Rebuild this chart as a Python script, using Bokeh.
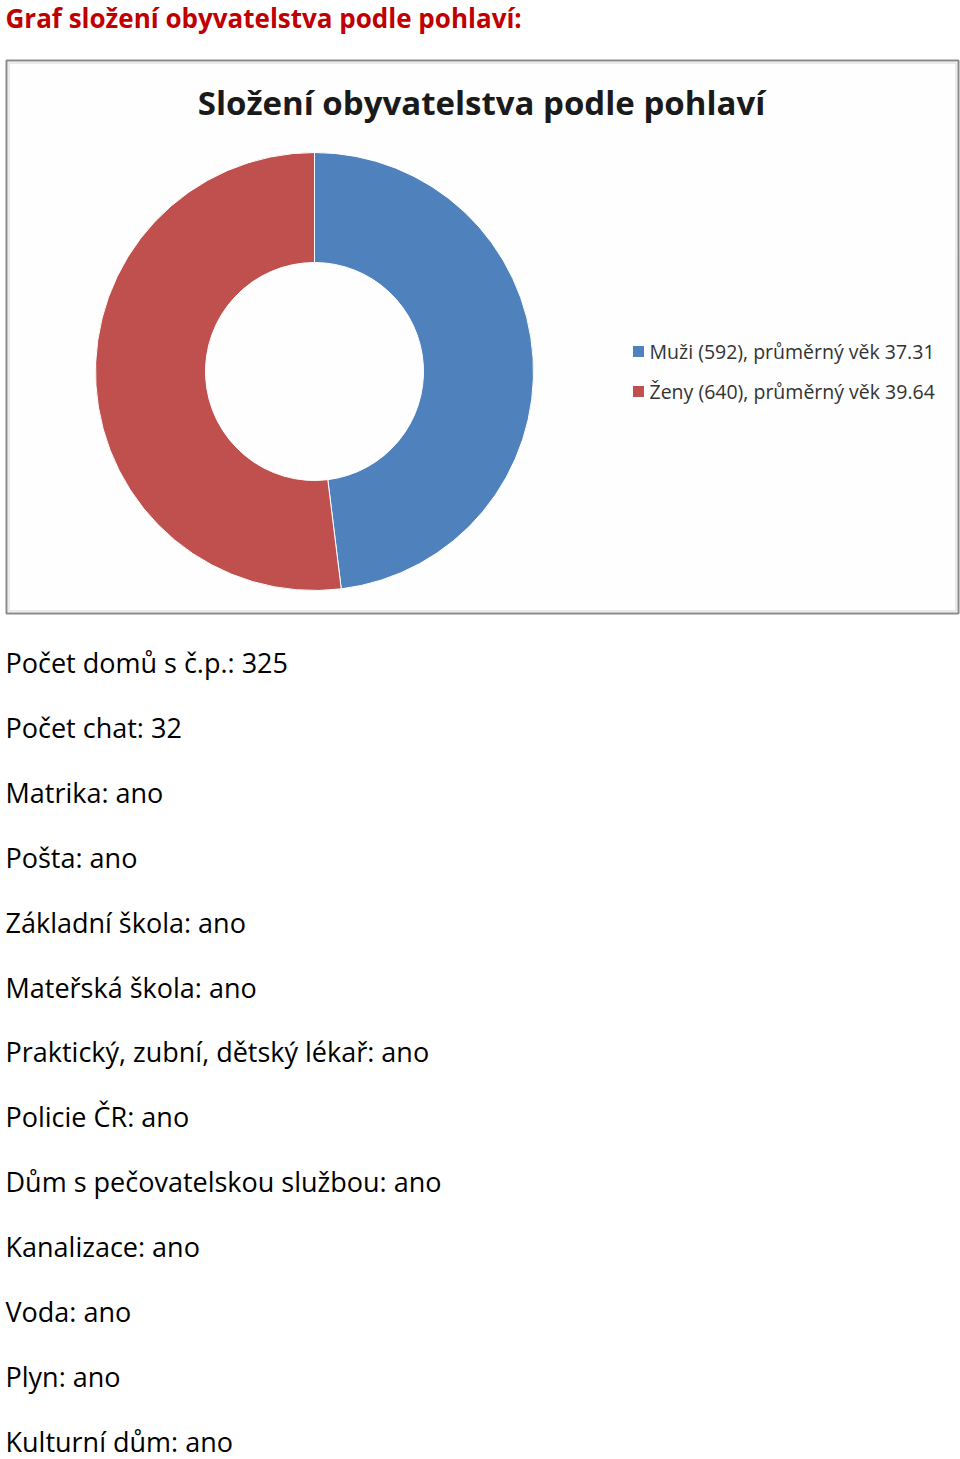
from math import pi
from bokeh.plotting import figure
from bokeh.models import Range1d, ColumnDataSource
from bokeh.core.properties import value
from bokeh.embed import file_html
from bokeh.resources import INLINE

# ---- data ----
heading = "Graf složení obyvatelstva podle pohlaví:"
chart_title = "Složení obyvatelstva podle pohlaví"
categories = ["Muži", "Ženy"]
counts = [592, 640]
avg_age = ["37.31", "39.64"]
colors = ["#4F81BD", "#C0504D"]
info_labels = ["Počet domů s č.p.", "Počet chat", "Matrika", "Pošta", "Základní škola",
               "Mateřská škola", "Praktický, zubní, dětský lékař", "Policie ČR",
               "Dům s pečovatelskou službou", "Kanalizace", "Voda", "Plyn", "Kulturní dům"]
info_values = ["325", "32", "ano", "ano", "ano", "ano", "ano", "ano", "ano", "ano", "ano", "ano", "ano"]

FONT = "Open Sans"
W, H = 960, 1459
p = figure(width=W, height=H, x_range=Range1d(0, W), y_range=Range1d(-H, 0),
           output_backend="svg", toolbar_location=None, min_border=0)
p.axis.visible = False
p.grid.visible = False
p.outline_line_color = None
p.background_fill_color = "white"
p.border_fill_color = "white"

# heading
p.text(x=[5], y=[-17], text=[heading], text_font=value(FONT), text_font_style="bold",
       text_font_size="26px", text_color="#C00000", text_baseline="middle")

# chart frame
p.quad(left=[6], right=[958], top=[-60], bottom=[-613], fill_color="#FEFEFE",
       line_color="#8a8a8a", line_width=2)
p.quad(left=[8.5], right=[955.5], top=[-62.5], bottom=[-610.5], fill_color=None,
       line_color="#d8d8d8", line_width=1)

# chart title
p.text(x=[481], y=[-102], text=[chart_title], text_font=value(FONT), text_font_style="bold",
       text_font_size="33px", text_color="#1a1a1a", text_align="center", text_baseline="middle")

# donut
total = sum(counts)
starts, ends = [], []
a = pi / 2
for c in counts:
    starts.append(a)
    a = a - 2 * pi * c / total
    ends.append(a)
src = ColumnDataSource(dict(start=starts, end=ends, color=colors))
p.annular_wedge(x=314, y=-371, inner_radius=109, outer_radius=219, start_angle="start",
                end_angle="end", direction="clock", fill_color="color", line_color="white",
                line_width=1, source=src)

# legend
leg_texts = [f"{c} ({n}), průměrný věk {ag}" for c, n, ag in zip(categories, counts, avg_age)]
leg_y = [-351 - 40 * i for i in range(len(categories))]
p.rect(x=[638] * len(categories), y=leg_y, width=11, height=11, fill_color=colors, line_color=None)
p.text(x=[649] * len(categories), y=leg_y, text=leg_texts, text_font=value(FONT),
       text_font_size="19.5px", text_color="#333333", text_baseline="middle")

# info lines
lines = [f"{l}: {v}" for l, v in zip(info_labels, info_values)]
ys = [-(662 + 64.9 * i) for i in range(len(lines))]
p.text(x=[5] * len(lines), y=ys, text=lines, text_font=value(FONT), text_font_size="27px",
       text_color="#000000", text_baseline="middle")

open("out.html", "w").write(file_html(p, INLINE))
